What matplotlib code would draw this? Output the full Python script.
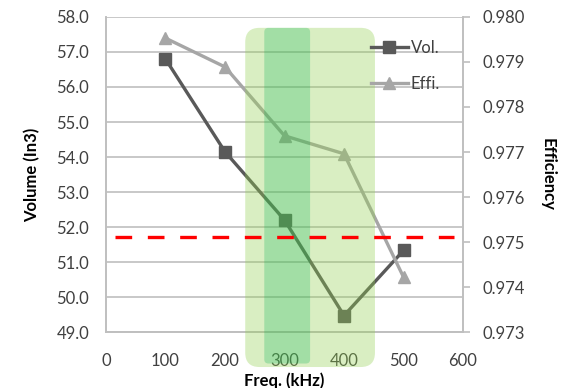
import numpy as np
import matplotlib
matplotlib.use('Agg')
import matplotlib.pyplot as plt
from matplotlib.patches import FancyBboxPatch

plt.rcParams['font.family'] = ['Lato', 'DejaVu Sans']

# Data
freq = [100, 200, 300, 400, 500]
volume = [56.8, 54.15, 52.2, 49.47, 51.33]
efficiency = [0.97953, 0.97889, 0.97736, 0.97696, 0.97422]
limit_vol = 51.71
limit_x = [15, 585]
light_box = (234, 452)   # freq range of light green region
dark_box = (266, 343)    # freq range of dark green region

fig = plt.figure(figsize=(5.65, 3.88), dpi=100)
ax = fig.add_axes([0.1876, 0.1443, 0.6319, 0.8119])
ax2 = ax.twinx()

ax.set_xlim(0, 600)
ax.set_ylim(49, 58)
ax.set_yticks(np.arange(49, 58.1, 1.0))
ax.set_yticklabels(['%.1f' % v for v in np.arange(49, 58.1, 1.0)])
ax.set_xticks(np.arange(0, 601, 100))
ax2.set_ylim(0.973, 0.980)
ax2.set_yticks(np.arange(0.973, 0.98001, 0.001))
ax2.set_yticklabels(['%.3f' % v for v in np.arange(0.973, 0.98001, 0.001)])

ax.grid(axis='y', color='#bfbfbf', lw=1.2)
ax.set_axisbelow(True)
for a in (ax, ax2):
    for s in a.spines.values():
        s.set_color('#bfbfbf')
        s.set_linewidth(1.2)
    a.spines['top'].set_visible(False)
ax.tick_params(axis='y', length=0, pad=12, labelsize=12, labelcolor='#404040')
ax.tick_params(axis='x', length=0, pad=15, labelsize=12, labelcolor='#404040')
ax2.tick_params(axis='y', length=5, width=1.2, color='#bfbfbf', pad=9, labelsize=12, labelcolor='#404040')

l1, = ax2.plot(freq, volume, color='#595959', lw=2.4, marker='s', ms=8,
               transform=ax.transData, label='Vol.', zorder=3)
l2, = ax2.plot(freq, efficiency, color='#a6a6a6', lw=2.4, marker='^', ms=8,
               label='Effi.', zorder=3)

# red dashed limit
ax2.plot(limit_x, [limit_vol, limit_vol], color='#ff0000', lw=2.4, dashes=(5, 4.7),
         transform=ax.transData, zorder=6, clip_on=False)

# highlighted regions (drawn over the lines, semi-transparent)
aspect = (1 / 35.0) / (100 / 59.5)
b1 = FancyBboxPatch((light_box[0], 48.0), light_box[1] - light_box[0], 57.69 - 48.0,
                    boxstyle='round,pad=0,rounding_size=24', mutation_aspect=aspect,
                    transform=ax.transData, facecolor='#92d050', alpha=0.35,
                    edgecolor='none', clip_on=False, zorder=5)
b2 = FancyBboxPatch((dark_box[0], 48.1), dark_box[1] - dark_box[0], 57.69 - 48.1,
                    boxstyle='round,pad=0,rounding_size=7', mutation_aspect=aspect,
                    transform=ax.transData, facecolor='#00b050', alpha=0.25,
                    edgecolor='none', clip_on=False, zorder=5)
ax2.add_patch(b1)
ax2.add_patch(b2)

ax.set_ylabel('Volume (In3)', fontsize=12, fontweight='bold')
ax.yaxis.set_label_coords(-0.184, 0.5)
ax2.set_ylabel('Efficiency', fontsize=12, fontweight='bold', rotation=-90, va='center')
ax2.yaxis.set_label_coords(1.238, 0.5)
ax.set_xlabel('Freq. (kHz)', fontsize=12, fontweight='bold')
ax.xaxis.set_label_coords(0.5, -0.127)

leg = ax2.legend(handles=[l1, l2], loc='upper left', bbox_to_anchor=(0.70, 0.975),
                 frameon=False, fontsize=12, labelspacing=1.2, handlelength=2.2,
                 handletextpad=0.2, labelcolor='#404040')
leg.set_zorder(7)

fig.savefig('out.png', dpi=100)
